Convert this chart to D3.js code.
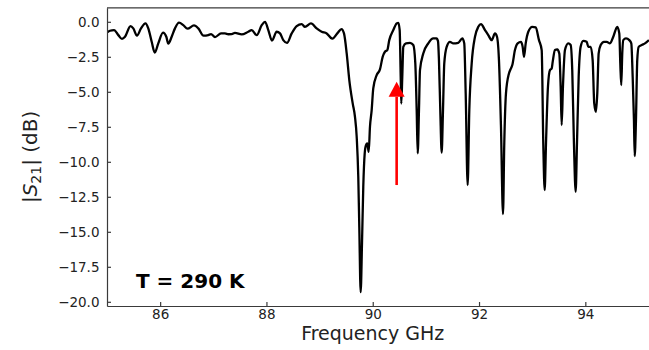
<!DOCTYPE html>
<html>
<head>
<meta charset="utf-8">
<script src="https://cdn.jsdelivr.net/npm/d3@7"></script>
<style>
  html, body { margin: 0; padding: 0; background: #fff; }
  svg { display: block; }
  text { font-family: "DejaVu Sans", sans-serif; }
</style>
</head>
<body>
<svg id="chart" width="649" height="350"></svg>
<script>
// Transmission spectrum |S21| at room temperature
const freqGHz = [
  85.000, 85.056, 85.132, 85.213, 85.282, 85.339, 85.442, 85.495, 85.564, 85.640,
  85.724, 85.777, 85.841, 85.899, 85.965, 86.054, 86.116, 86.153, 86.217, 86.279,
  86.355, 86.436, 86.515, 86.637, 86.718, 86.816, 86.906, 86.957, 87.032, 87.145,
  87.220, 87.282, 87.346, 87.408, 87.534, 87.658, 87.722, 87.817, 87.911, 87.973,
  88.035, 88.104, 88.193, 88.255, 88.317, 88.387, 88.475, 88.569, 88.663, 88.725,
  88.838, 88.945, 89.039, 89.134, 89.228, 89.243, 89.337, 89.412, 89.459, 89.510,
  89.559, 89.623, 89.666, 89.698, 89.728, 89.747, 89.773, 89.798, 89.822, 89.849,
  89.873, 89.897, 89.924, 89.948, 89.980, 90.010, 90.074, 90.136, 90.187, 90.230,
  90.274, 90.311, 90.387, 90.451, 90.481, 90.507, 90.526, 90.537, 90.556, 90.575,
  90.626, 90.701, 90.763, 90.801, 90.827, 90.846, 90.870, 90.889, 90.951, 91.045,
  91.139, 91.199, 91.228, 91.246, 91.271, 91.297, 91.322, 91.346, 91.391, 91.453,
  91.515, 91.609, 91.685, 91.722, 91.749, 91.786, 91.817, 91.862, 91.924, 91.986,
  92.037, 92.112, 92.174, 92.238, 92.300, 92.338, 92.375, 92.413, 92.451, 92.475,
  92.507, 92.563, 92.601, 92.626, 92.676, 92.727, 92.789, 92.821, 92.846, 92.878,
  92.927, 93.002, 93.066, 93.128, 93.179, 93.209, 93.235, 93.260, 93.297, 93.335,
  93.367, 93.386, 93.429, 93.472, 93.510, 93.536, 93.555, 93.579, 93.617, 93.679,
  93.724, 93.754, 93.786, 93.818, 93.843, 93.875, 93.912, 93.961, 94.025, 94.056,
  94.101, 94.138, 94.168, 94.200, 94.225, 94.251, 94.289, 94.351, 94.402, 94.464,
  94.526, 94.601, 94.639, 94.658, 94.676, 94.695, 94.714, 94.765, 94.827, 94.865,
  94.891, 94.915, 94.929, 94.953, 94.977, 95.004, 95.060, 95.122, 95.197
];

const s21dB = [
  -0.77, -0.64, -0.59, -0.95, -1.22, -1.07, -0.31, -0.47, -0.99, -0.47,
  -0.11, -0.47, -1.43, -2.20, -1.54, -0.77, -1.07, -1.56, -1.07, -0.47,
  -0.06, -0.24, -0.49, -0.26, -0.47, -0.99, -0.95, -0.88, -1.09, -0.83,
  -0.83, -0.89, -0.88, -0.79, -0.90, -0.71, -0.59, -0.95, -0.24, 0.00,
  -0.59, -1.34, -0.71, -0.83, -1.31, -1.50, -0.83, -0.31, -0.16, -0.36,
  -0.11, -0.47, -0.71, -0.83, -1.19, -1.20, -0.81, -0.52, -0.83, -2.26,
  -4.16, -5.83, -6.79, -8.21, -11.07, -14.64, -19.31, -15.83, -11.79, -9.40,
  -8.81, -8.69, -9.29, -7.50, -6.31, -4.76, -3.81, -3.40, -2.50, -2.14,
  -2.02, -1.31, -0.59, -0.11, -0.07, -0.59, -3.93, -5.83, -3.93, -1.79,
  -1.54, -1.50, -1.66, -2.97, -6.31, -9.40, -6.31, -3.45, -2.26, -1.54,
  -1.19, -1.19, -1.38, -2.74, -6.31, -9.34, -6.31, -2.97, -1.79, -1.43,
  -1.54, -1.50, -1.19, -1.54, -5.11, -11.66, -6.31, -2.97, -1.07, -0.36,
  -0.16, -0.59, -0.95, -1.31, -0.83, -1.07, -2.74, -7.50, -13.74, -8.69,
  -5.11, -3.69, -3.33, -3.09, -2.02, -1.54, -1.43, -1.79, -2.50, -1.54,
  -0.71, -0.36, -0.40, -1.31, -2.02, -8.69, -12.02, -8.69, -4.64, -3.45,
  -3.33, -2.86, -2.02, -1.97, -2.26, -4.64, -7.38, -4.64, -2.02, -1.54,
  -1.66, -3.45, -8.69, -12.14, -8.69, -3.93, -1.79, -1.36, -1.43, -1.79,
  -1.79, -2.74, -5.83, -6.43, -5.11, -2.26, -1.66, -1.43, -1.43, -1.54,
  -1.07, -0.36, -0.83, -2.97, -4.52, -2.26, -1.31, -1.19, -1.31, -1.54,
  -3.93, -7.02, -9.59, -7.02, -2.74, -1.79, -1.66, -1.54, -1.31
];

const xTicks = [86, 88, 90, 92, 94];
const yTicks = [0, -2.5, -5, -7.5, -10, -12.5, -15, -17.5, -20];

// Marker arrow pointing at the feature near 90.45 GHz
const arrowFreq = 90.45;
const arrowFromDB = -11.66;
const arrowToDB = -4.29;

const tempLabel = "T = 290 K";

const svg = d3.select("#chart");

const plotLeft = 107, plotTop = 7.8, plotBottom = 306;
const xScale = d3.scaleLinear().domain([85, 95.2]).range([plotLeft, 649.1]);
const yScale = d3.scaleLinear().domain([-20.3, 1.0]).range([plotBottom, plotTop]);

svg.append("defs").append("clipPath").attr("id", "plotClip")
  .append("rect")
  .attr("x", plotLeft).attr("y", plotTop)
  .attr("width", 700 - plotLeft).attr("height", plotBottom - plotTop);

// Spectrum trace
const line = d3.line()
  .x((d, i) => xScale(freqGHz[i]))
  .y(d => yScale(d))
  .curve(d3.curveMonotoneX);

svg.append("path")
  .datum(s21dB)
  .attr("clip-path", "url(#plotClip)")
  .attr("d", line)
  .attr("fill", "none")
  .attr("stroke", "#000")
  .attr("stroke-width", 2.3)
  .attr("stroke-linejoin", "round");

// Axes with inward ticks
const spineColor = "#3a3a3a";

const xAxis = d3.axisBottom(xScale)
  .tickValues(xTicks)
  .tickFormat(d3.format("d"))
  .tickSizeInner(-4)
  .tickSizeOuter(0)
  .tickPadding(3);

const gx = svg.append("g")
  .attr("transform", `translate(0,${plotBottom})`)
  .call(xAxis);

const yAxis = d3.axisLeft(yScale)
  .tickValues(yTicks)
  .tickFormat(d => (d < 0 ? "\u2212" : "") + Math.abs(d).toFixed(1))
  .tickSizeInner(-4)
  .tickSizeOuter(0)
  .tickPadding(7.5);

const gy = svg.append("g")
  .attr("transform", `translate(${plotLeft},0)`)
  .call(yAxis);

[gx, gy].forEach(g => {
  g.select(".domain").attr("stroke", spineColor).attr("stroke-width", 1.2);
  g.selectAll(".tick line").attr("stroke", spineColor).attr("stroke-width", 1.2);
  g.selectAll(".tick text")
    .attr("fill", "#222")
    .style("font-family", "'DejaVu Sans', sans-serif")
    .style("font-size", "13.5px");
});

// Top spine
svg.append("line")
  .attr("x1", plotLeft).attr("x2", 700)
  .attr("y1", plotTop).attr("y2", plotTop)
  .attr("stroke", spineColor).attr("stroke-width", 1.2);

// Axis titles
svg.append("text")
  .attr("x", xScale(90))
  .attr("y", 340)
  .attr("text-anchor", "middle")
  .attr("fill", "#222")
  .style("font-size", "19px")
  .text("Frequency GHz");

const yTitle = svg.append("text")
  .attr("transform", `translate(37,${(plotTop + plotBottom) / 2}) rotate(-90)`)
  .attr("text-anchor", "middle")
  .attr("fill", "#222")
  .style("font-size", "20px");
yTitle.append("tspan").text("|");
yTitle.append("tspan").style("font-style", "italic").text("S");
yTitle.append("tspan").attr("dy", 4).style("font-size", "14px").text("21");
yTitle.append("tspan").attr("dy", -4).text("| (dB)");

// Temperature annotation
svg.append("text")
  .attr("x", 136)
  .attr("y", 287.5)
  .attr("fill", "#000")
  .style("font-size", "20px")
  .style("font-weight", "bold")
  .text(tempLabel);

// Red arrow
const ax = xScale(arrowFreq);
const tailY = yScale(arrowFromDB);
const tipY = yScale(arrowToDB);
const headLen = 15, headHalf = 8;
svg.append("line")
  .attr("x1", ax).attr("x2", ax)
  .attr("y1", tailY).attr("y2", tipY + headLen)
  .attr("stroke", "#ff0000")
  .attr("stroke-width", 2.6);
svg.append("path")
  .attr("d", `M${ax},${tipY} L${ax - headHalf},${tipY + headLen} L${ax + headHalf},${tipY + headLen} Z`)
  .attr("fill", "#ff0000");
</script>
</body>
</html>
